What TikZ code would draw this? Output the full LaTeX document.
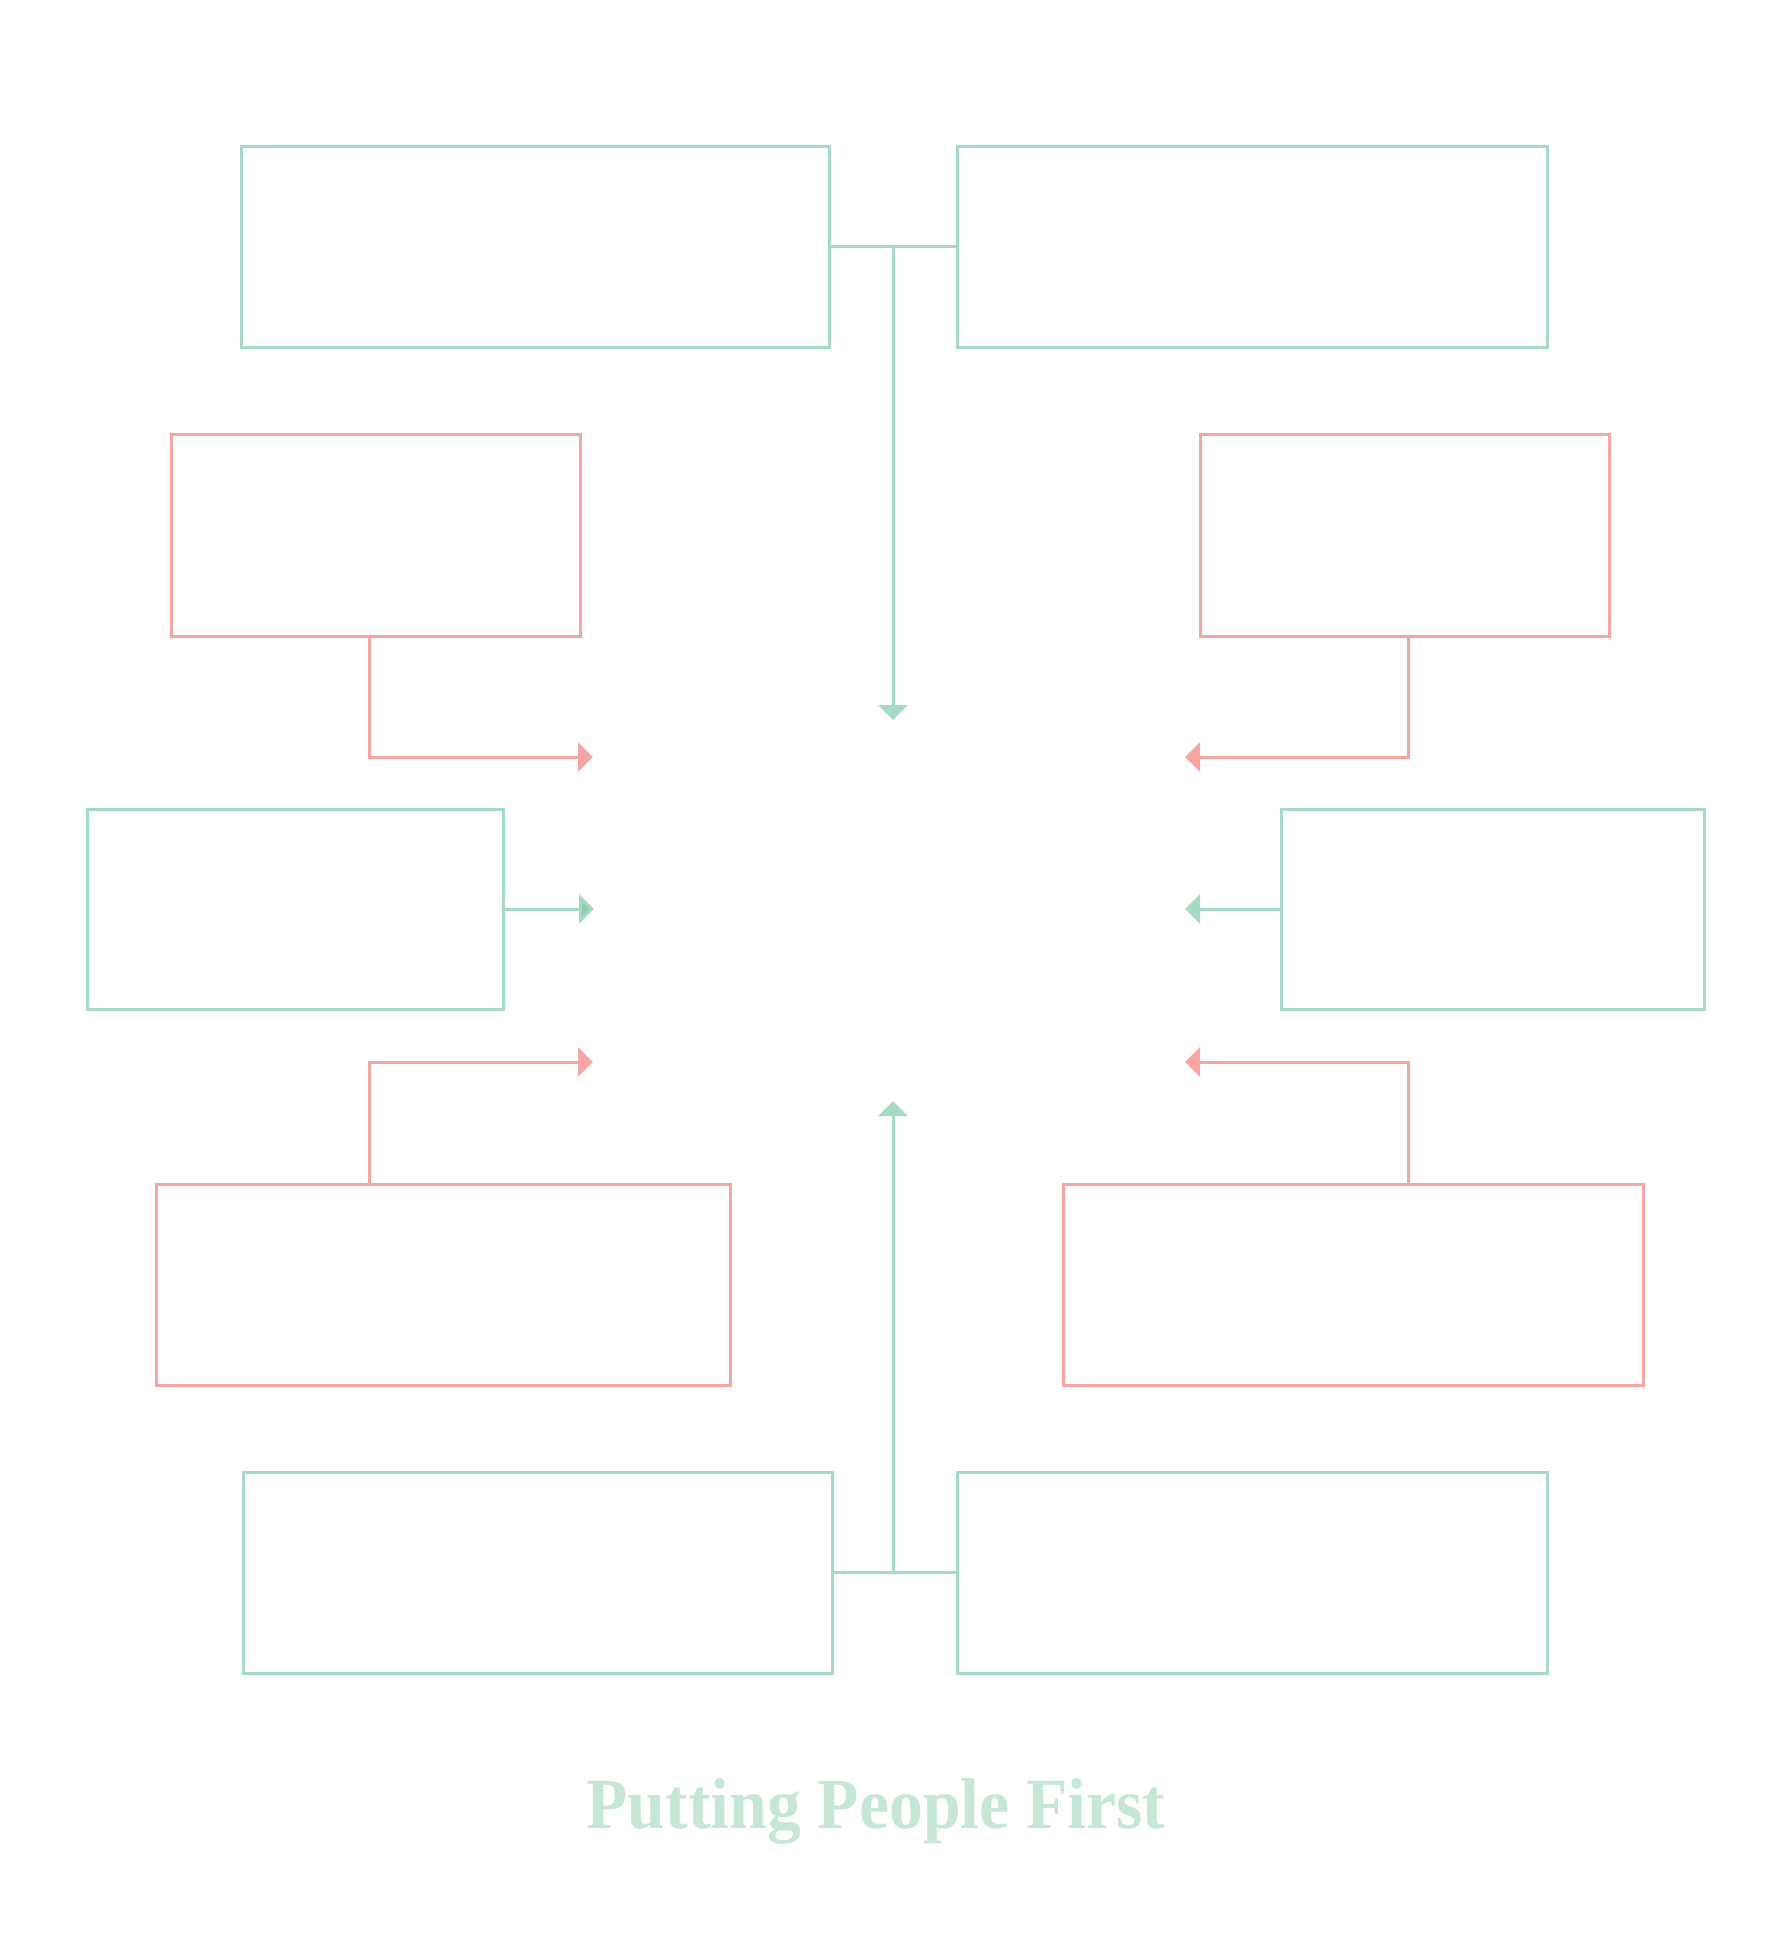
\documentclass[tikz,border=0pt]{standalone}
\usepackage{fontspec}
\usepackage{graphicx}
\usepackage{tikz}
\usetikzlibrary{positioning,arrows.meta}

\newfontfamily\titlefont{Liberation Serif}

\definecolor{mint}{RGB}{166,218,194}
\definecolor{mintdark}{RGB}{143,206,176}
\definecolor{mintpale}{RGB}{198,230,214}
\definecolor{coral}{RGB}{245,166,163}

\begin{document}
\begin{tikzpicture}
  [x=0.5pt,y=-0.5pt,line width=1.5pt,
   every node/.style={rectangle,inner sep=0pt,minimum height=100.5pt},
   greenbox/.style={draw=mint},
   redbox/.style={draw=coral},
   greenlink/.style={draw=mint,-{Triangle[length=7.5pt,width=14.5pt,fill=mint]}},
   redlink/.style={draw=coral,-{Triangle[length=7.5pt,width=14.5pt,fill=coral]}}]
  \useasboundingbox (0,0) rectangle (1786,1956);

  % boxes
  \node[greenbox,minimum width=294pt] (tl) at (535,246.5) {};
  \node[greenbox,minimum width=295pt] (tr) at (1252,246.5) {};
  \node[redbox,minimum width=204.5pt,minimum height=101pt] (rul) at (375.5,535) {};
  \node[redbox,minimum width=204.5pt,minimum height=101pt] (rur) at (1404.5,535) {};
  \node[greenbox,minimum width=208pt,minimum height=100pt] (gml) at (295,909) {};
  \node[greenbox,minimum width=211.5pt,minimum height=100pt] (gmr) at (1492.5,909) {};
  \node[redbox,minimum width=287pt] (rll) at (443,1284.5) {};
  \node[redbox,minimum width=290pt] (rlr) at (1353,1284.5) {};
  \node[greenbox,minimum width=294.5pt] (gbl) at (537.5,1572.5) {};
  \node[greenbox,minimum width=295pt] (gbr) at (1252,1572.5) {};

  \node[draw=none,minimum height=0pt,anchor=base,text=mintpale,
        font=\titlefont\fontsize{36}{40}\selectfont\bfseries] (title) at (876,1828)
        {\scalebox{0.94}[1]{Putting People First}};

  % arrow ends round the empty middle
  \coordinate (lx) at (369,0);
  \coordinate (rx) at (1408,0);
  \coordinate (mx) at (893,0);
  \coordinate (tiptop) at (893,720);
  \coordinate (tipbot) at (893,1101);
  \coordinate (tipul) at (593,757);
  \coordinate (tipur) at (1185,757);
  \coordinate (tipml) at (594,0);
  \coordinate (tipmr) at (1185,0);
  \coordinate (tipll) at (593,1062);
  \coordinate (tiplr) at (1185,1062);

  \draw[mint] (tl.east) -- (tr.west);
  \draw[greenlink] (tl.east -| mx) -- (tiptop);
  \draw[mint] (gbl.east) -- (gbr.west);
  \draw[greenlink] (gbl.east -| mx) -- (tipbot);

  \draw[redlink] (rul.south -| lx) |- (tipul);
  \draw[redlink] (rur.south -| rx) |- (tipur);
  \draw[redlink] (rll.north -| lx) |- (tipll);
  \draw[redlink] (rlr.north -| rx) |- (tiplr);

  \draw[greenlink,-{Triangle[length=7.5pt,width=14.5pt,fill=mintdark]}] (gml.east) -- (gml.east -| tipml);
  \draw[greenlink] (gmr.west) -- (gmr.west -| tipmr);
\end{tikzpicture}
\end{document}
